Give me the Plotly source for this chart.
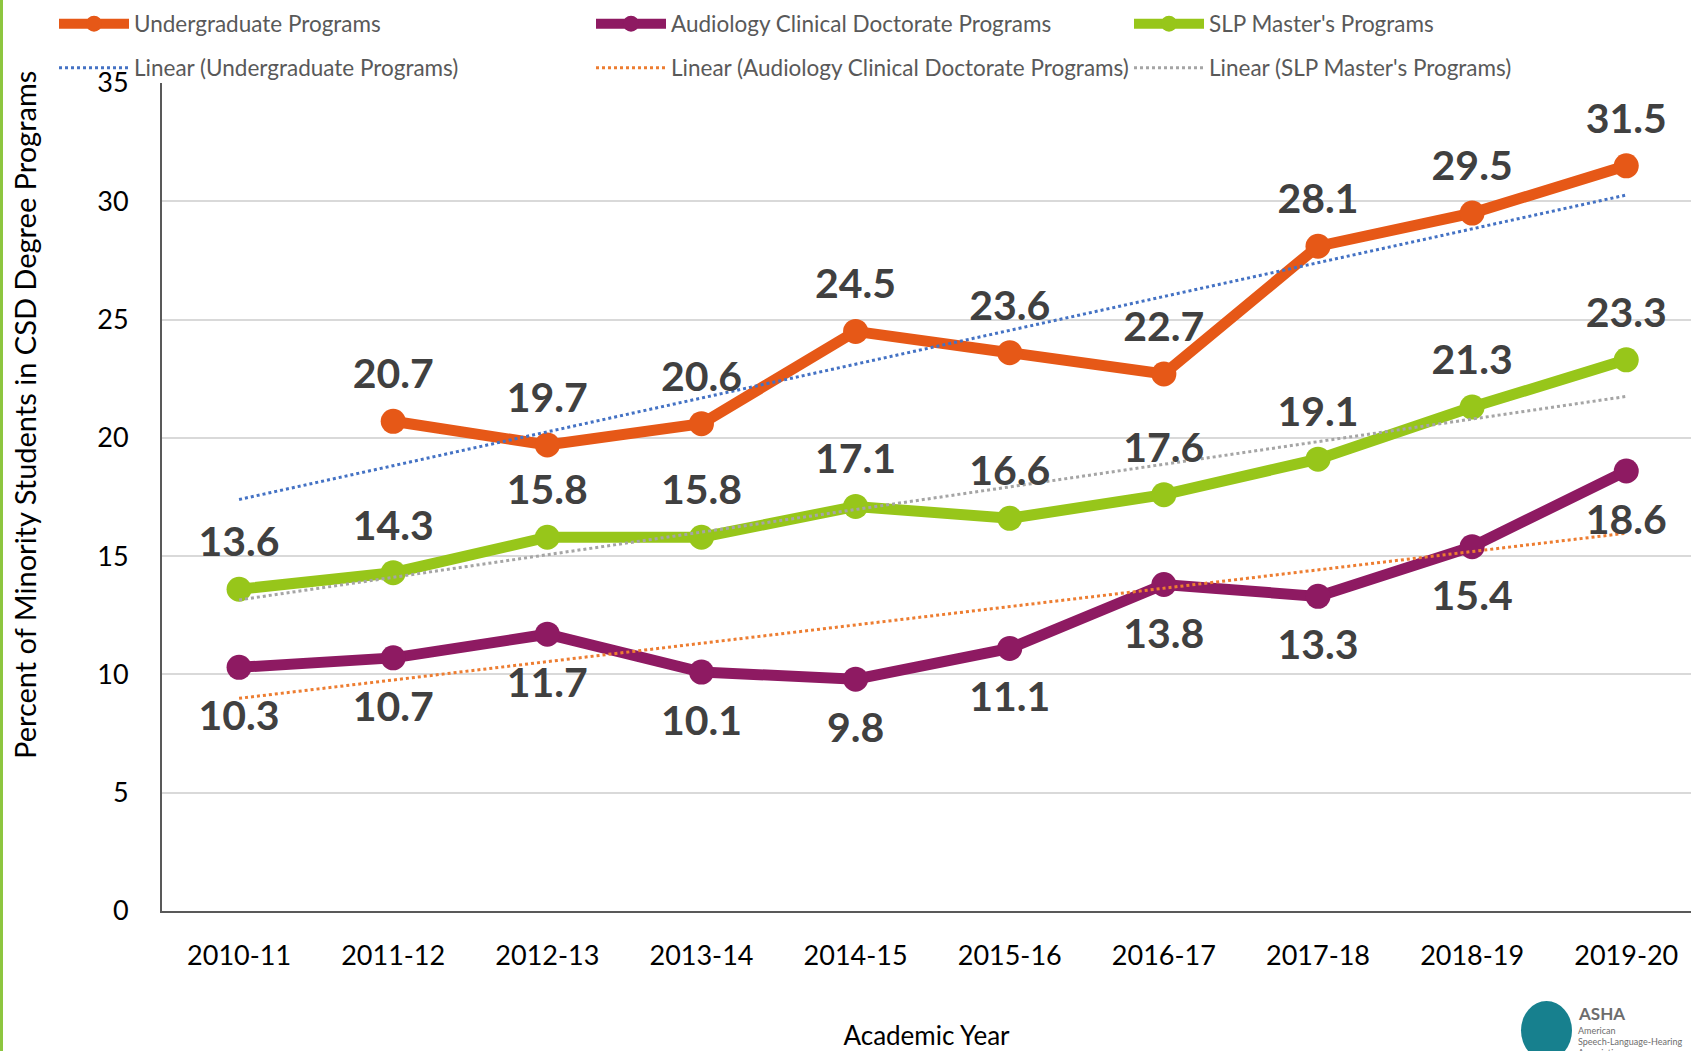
import numpy as np
import plotly.graph_objects as go

years = ["2010-11", "2011-12", "2012-13", "2013-14", "2014-15",
         "2015-16", "2016-17", "2017-18", "2018-19", "2019-20"]
undergrad = [None, 20.7, 19.7, 20.6, 24.5, 23.6, 22.7, 28.1, 29.5, 31.5]
audiology = [10.3, 10.7, 11.7, 10.1, 9.8, 11.1, 13.8, 13.3, 15.4, 18.6]
slp = [13.6, 14.3, 15.8, 15.8, 17.1, 16.6, 17.6, 19.1, 21.3, 23.3]

series_names = ["Undergraduate Programs", "Audiology Clinical Doctorate Programs", "SLP Master's Programs"]
series_colors = ["#E65817", "#8E1A62", "#97C61A"]
trend_colors = ["#4472C4", "#ED7D31", "#A5A5A5"]
label_pos = ["top center", "bottom center", "top center"]
label_pad = [35, 50, 35]  # invisible marker size used to offset data labels

W, H = 1691, 1051
L, R, T, B = 162, 0, 83, 140
PW, PH = W - L - R, H - T - B


def px_x(px):
    return (px - L) / PW


def px_y(py):
    return (H - B - py) / PH


def trend(vals):
    idx = np.arange(1, len(vals) + 1, dtype=float)
    arr = np.array([np.nan if v is None else v for v in vals], dtype=float)
    m = ~np.isnan(arr)
    k, b = np.polyfit(idx[m], arr[m], 1)
    return k * idx + b


fig = go.Figure()
all_series = [undergrad, audiology, slp]
legend_ids = ["legend", "legend2", "legend3"]
trend_legend_ids = ["legend4", "legend5", "legend6"]

for name, vals, col, lg in zip(series_names, all_series, series_colors, legend_ids):
    fig.add_trace(go.Scatter(
        x=years, y=vals, name=name, mode="lines+markers",
        line=dict(color=col, width=11),
        marker=dict(color=col, size=25),
        cliponaxis=False, legend=lg,
    ))

for name, vals, col, lg in zip(series_names, all_series, trend_colors, trend_legend_ids):
    fig.add_trace(go.Scatter(
        x=years, y=trend(vals), name=f"Linear ({name})", mode="lines",
        line=dict(color=col, width=3, dash="dot"),
        legend=lg, hoverinfo="skip",
    ))

# data labels
for vals, pos, pad in zip(all_series, label_pos, label_pad):
    fig.add_trace(go.Scatter(
        x=years, y=vals, mode="markers+text", showlegend=False,
        marker=dict(size=pad, opacity=0),
        text=[("" if v is None else f"{v:.1f}") for v in vals],
        textposition=pos,
        textfont=dict(family="Lato", size=41, color="#404040", weight="bold"),
        cliponaxis=False, hoverinfo="skip",
    ))

legend_common = dict(
    orientation="h", xref="container", yref="container",
    itemwidth=70,
    font=dict(family="Lato", size=22.5, color="#595959"),
    bgcolor="rgba(0,0,0,0)", yanchor="middle", xanchor="left",
)
col_x = [54, 591, 1129]
row_y = [24, 68]
legend_layout = {}
for i, lg in enumerate(legend_ids):
    legend_layout[lg] = dict(x=col_x[i] / W, y=1 - row_y[0] / H, **legend_common)
for i, lg in enumerate(trend_legend_ids):
    legend_layout[lg] = dict(x=col_x[i] / W, y=1 - row_y[1] / H, **legend_common)

fig.update_layout(
    width=W, height=H,
    margin=dict(l=L, r=R, t=T, b=B, autoexpand=False),
    paper_bgcolor="white", plot_bgcolor="white",
    showlegend=True,
    **legend_layout,
    xaxis=dict(
        type="category", range=[-0.5, 9.42],
        showline=True, linecolor="#595959", linewidth=2,
        showgrid=False, ticks="", zeroline=False,
        tickfont=dict(family="Lato", size=27, color="#000000"),
        ticklabelstandoff=20,
        title=dict(text="Academic Year", font=dict(family="Lato", size=26, color="#000000"), standoff=61),
        automargin=False,
    ),
    yaxis=dict(
        range=[0, 35], dtick=5, tick0=0,
        showline=True, linecolor="#595959", linewidth=2,
        showgrid=True, gridcolor="#D9D9D9", gridwidth=1.5,
        zeroline=False, ticks="",
        tickfont=dict(family="Lato", size=27, color="#000000"),
        ticklabelstandoff=26,
        automargin=False,
    ),
    shapes=[
        dict(type="line", xref="paper", yref="paper",
             x0=px_x(1.5), x1=px_x(1.5), y0=px_y(0), y1=px_y(H),
             line=dict(color="#8DC63F", width=3)),
        dict(type="circle", xref="paper", yref="paper",
             x0=px_x(1521), x1=px_x(1572), y0=px_y(1060), y1=px_y(1001),
             fillcolor="#17808E", line=dict(width=0)),
    ],
    annotations=[
        dict(text="Percent of Minority Students in CSD Degree Programs",
             xref="paper", yref="paper", x=px_x(24), y=px_y(415), textangle=-90,
             xanchor="center", yanchor="middle", showarrow=False,
             font=dict(family="Lato", size=29, color="#000000")),
        dict(text="<b>ASHA</b>", xref="paper", yref="paper", x=px_x(1576), y=px_y(1013),
             xanchor="left", yanchor="middle", showarrow=False,
             font=dict(family="Lato", size=17, color="#6D6D6D")),
        dict(text="American", xref="paper", yref="paper", x=px_x(1576), y=px_y(1030),
             xanchor="left", yanchor="middle", showarrow=False,
             font=dict(family="Lato", size=9, color="#6D6D6D")),
        dict(text="Speech-Language-Hearing", xref="paper", yref="paper", x=px_x(1576), y=px_y(1041),
             xanchor="left", yanchor="middle", showarrow=False,
             font=dict(family="Lato", size=9, color="#6D6D6D")),
        dict(text="Association", xref="paper", yref="paper", x=px_x(1576), y=px_y(1052),
             xanchor="left", yanchor="middle", showarrow=False,
             font=dict(family="Lato", size=9, color="#6D6D6D")),
    ],
)

fig.write_html("out.html", config={"displayModeBar": False},
               post_script="document.body.style.margin='0';")
